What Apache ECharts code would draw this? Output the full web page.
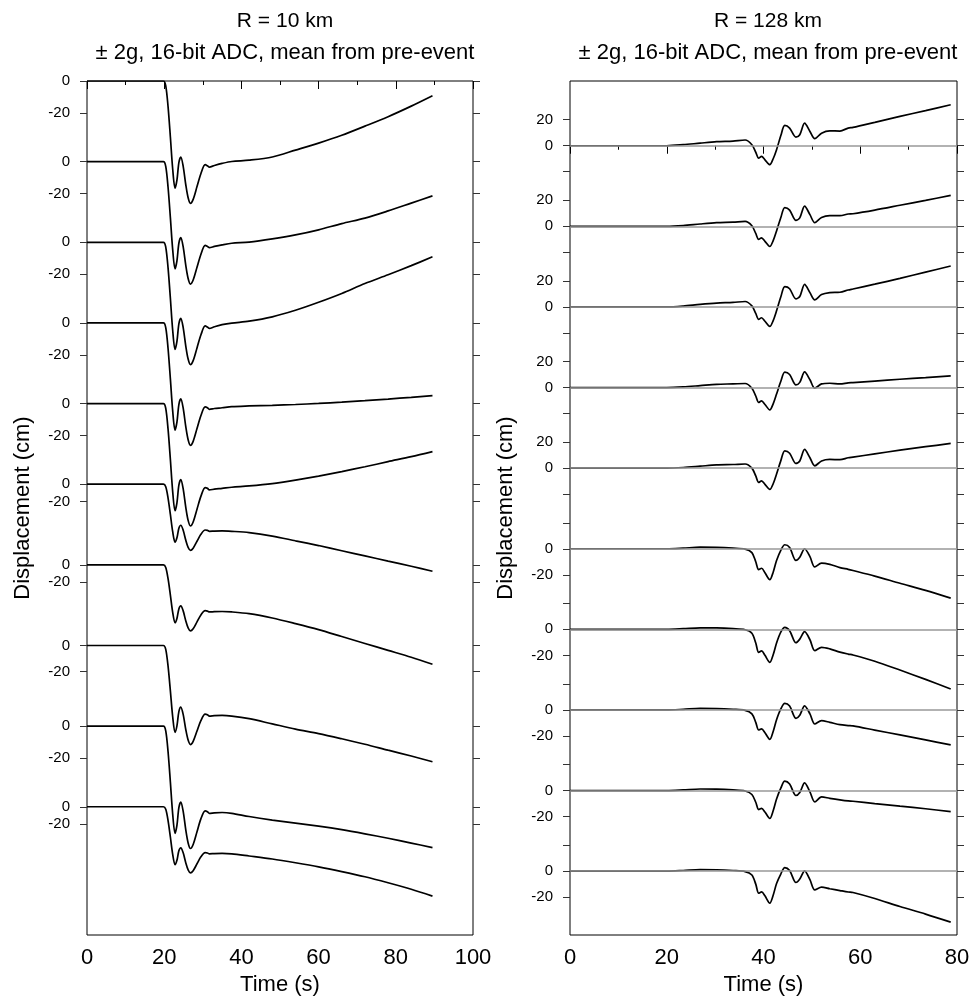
<!DOCTYPE html>
<html><head><meta charset="utf-8">
<script src="https://cdn.jsdelivr.net/npm/echarts@6/dist/echarts.min.js"></script>
<style>html,body{margin:0;padding:0;background:#fff}#c{width:971px;height:997px}</style>
</head><body><div id="c"></div>
<script>
// ---------- DATA ----------
// Left panel (R = 10 km): time samples (s) shared by all traces
const tLeft = [0, 10, 19.8, 20.4, 21.0, 21.6, 22.2, 22.8, 23.3, 23.8, 24.3, 24.9, 25.6, 26.2, 26.8, 27.5, 28.5, 29.5, 30.6, 31.2, 31.7, 33.0, 35.0, 37.5, 42, 48, 54, 60, 66, 72, 78, 84, 89.5];
// displacement (cm), top to bottom
const L1  = [0,0,0,-3,-16,-35,-55,-67,-62,-51,-47.5,-53,-65,-73,-76.5,-74,-66,-58,-52.3,-53,-53.8,-52.8,-51.5,-50.3, -49.5,-47.5,-43.2,-38.8,-33.9,-28.2,-22.3,-15.7,-9.2];
const L2  = [0,0,0,-3,-16,-35,-55,-67,-62,-51,-47.5,-53,-65,-73,-76.5,-74,-66,-58,-52.3,-53,-53.8,-53,-52,-51, -50.3,-48.3,-45.8,-42.6,-38.7,-35.3,-30.8,-25.9,-21.4];
const L3  = [0,0,0,-3,-16,-35,-55,-67,-62,-51,-47.5,-53,-65,-73,-76.5,-74,-66,-58,-52.3,-53,-53.8,-52.8,-51.5,-50.5, -49.3,-46.6,-42.5,-37.5,-32,-25.8,-20.3,-14.6,-9.1];
const L4  = [0,0,0,-3,-16,-35,-55,-67,-62,-51,-47.5,-53,-65,-73,-76.5,-74,-66,-58,-52.5,-53,-54,-53.5,-53,-52.3, -51.9,-51.5,-51,-50.3,-49.5,-48.6,-47.6,-46.5,-45.4];
const L5  = [0,0,0,-3,-16,-35,-55,-67,-62,-51,-47.5,-53,-65,-73,-76.5,-74,-66,-58,-52.5,-53,-54,-53.5,-53,-52.3, -51.5,-50,-47.8,-45.3,-42.5,-39.5,-36.3,-33.2,-30];
const L6  = [0,0,0,-3,-16,-35,-55,-67,-62,-51,-47.5,-53,-65,-73,-76.5,-74,-66,-58,-53,-53.5,-54.5,-54.2,-54,-54.5, -56,-60,-65.5,-71,-77,-83,-89,-95,-100.8];
const L7  = [0,0,0,-3,-16,-35,-55,-67,-62,-51,-47.5,-53,-65,-73,-76.5,-74,-66,-58,-53,-53.5,-54.5,-54.2,-54,-54.5, -56.5,-61.5,-68,-75,-83,-91,-99,-107,-115];
const L8  = [0,0,0,-3,-16,-35,-55,-67,-62,-51,-47.5,-53,-65,-73,-76.5,-74,-66,-58,-53,-53.5,-54.5,-54.2,-54,-54.5, -56.5,-60.5,-64.5,-68,-72,-76.2,-80.8,-85.3,-89.7];
const L9  = [0,0,0,-3,-16,-35,-55,-67,-62,-51,-47.5,-53,-65,-73,-76.5,-74,-66,-58,-53,-53.5,-54.5,-54.2,-54,-54.5, -56.5,-58.7,-60.6,-62.5,-64.7,-67.3,-70.1,-73.1,-75.9];
const L10 = [0,0,0,-3,-16,-35,-55,-67,-62,-51,-47.5,-53,-65,-73,-76.5,-74,-66,-58,-53,-53.5,-54.5,-54.2,-54,-54.5, -57,-60.5,-64.8,-69.5,-75,-81,-88,-95.5,-103.4];
const leftTraces = [L1, L2, L3, L4, L5, L6, L7, L8, L9, L10];
// relative plotting gain of each left trace
const leftGain = [1, 1, 1, 1, 1, 0.54, 0.54, 0.81, 1, 0.54];

// Right panel (R = 128 km)
const tRight = [0, 10, 20, 23.4, 26.9, 30.3, 33.7, 36.2, 37.6, 38.4, 39.0, 39.6, 40.3, 41.3, 42.0, 42.7, 43.6, 44.4, 45.4, 46.7, 47.5, 48.5, 49.6, 50.6, 52.0, 53.7, 55.8, 57.5, 58.5, 63, 68.2, 73.5, 78.7];
const R1  = [0,0,0,0.8,2,3.1,3.6,4.4, 0.8,-5,-9.5,-8.2,-10.8,-14.6,-10,-3, 8,15.6,13.6,6.7,8.5,17.4,11,5.4, 9.7,11.5,11.3,13.6,14.1, 18,22.6,27,31.5];
const R2  = [0,0,0,0.6,1.8,2.8,3.2,3.8, 0.5,-5.5,-10,-8.8,-11.5,-15.5,-11,-3.5, 7,14.4,12.5,4.6,6.5,15.6,9,2.8, 6.8,8.2,8.2,9.5,9.7, 12.5,16.2,20,23.8];
const R3  = [0,0,0,0.7,2,3,3.5,4.2, 0.8,-5,-9.5,-8.3,-11,-15,-10.5,-3, 8,15.6,14,6.2,8,17.4,11,5.4, 9.5,11,11.3,13,13.8, 17.5,22,26.8,31.5];
const R4  = [0,0,0,0.5,1.5,2.5,2.8,3.1, -0.5,-6.5,-11.5,-10.3,-13,-17.2,-12.5,-5, 5,11.8,10,2,4,12,6,-0.5, 2.8,3.3,2.8,3.6,3.8, 5,6.4,7.7,9.0];
const R5  = [0,0,0,0.5,1.5,2.5,2.8,3.2, 0,-6,-11,-9.8,-12.5,-16.4,-12,-4.5, 6,13.3,11.5,3.6,5.5,14.4,8,1.8, 5.5,6.7,6.5,8,8.5, 11,13.8,16.5,19];
const R6  = [0,0,0,0.5,1.2,1.1,0.5,-0.3, -3,-10,-16,-15,-18.5,-23.8,-18,-9, -1,3.1,1,-9,-6.5,0,-6,-14, -11,-12,-14.5,-15.8,-16.7, -21,-26.5,-32,-38];
const R7  = [0,0,0,0.5,1.2,1.1,0.5,-0.3, -3,-10.5,-17.7,-16.5,-20,-25.4,-19.5,-10.5, -2,1.5,-1,-10.3,-7.5,-1.8,-8,-16.4, -13.8,-15,-17.5,-19,-19.7, -24.5,-31.3,-38.5,-45.9];
const R8  = [0,0,0,0.5,1.2,1.1,0.5,-0.3, -3,-9.5,-15.4,-14.5,-17.5,-22.6,-16.5,-7.5, 1,5.1,3,-6.4,-4,3.1,-3,-10.8, -8.2,-9.5,-11.3,-12,-12.3, -15.5,-19.2,-23,-26.9];
const R9  = [0,0,0,0.5,1.2,1.1,0.5,-0.3, -3,-9,-14.6,-13.7,-16.5,-21.5,-15.5,-6.5, 2,7.2,5,-3.8,-1.5,5.9,-1,-8.7, -4.9,-6,-7.2,-8,-8.2, -10,-12,-14,-16.2];
const R10 = [0,0,0,0.5,1.2,1.1,0.5,-0.3, -3,-10,-16.9,-16,-19,-24.6,-18.5,-9.5, -2,2.8,0.5,-8.7,-6,0.3,-6.5,-14.4, -12.3,-13.5,-14.9,-16,-16.4, -21,-27.2,-33,-39.2];
const rightTraces = [R1, R2, R3, R4, R5, R6, R7, R8, R9, R10];

// x tick settings
const leftXTicks = {min: 0, max: 100, interval: 20};
const rightXTicks = {min: 0, max: 80, interval: 20};

// ---------- LAYOUT ----------
const FONT = 'Liberation Sans, Arial, Helvetica, sans-serif';
const GRID_TOP = 81, GRID_H = 854;
const LEFT_SPACING = 50.4;               // trace separation, display cm
const LEFT_MAX = 0, LEFT_MIN = -533.75;
const RIGHT_SPACING = 62.0;
const RIGHT_MAX = 49.8, RIGHT_MIN = 49.8 - 656.9;

const leftOff = leftTraces.map((_, k) => -LEFT_SPACING * k);
const rightOff = rightTraces.map((_, k) => -RIGHT_SPACING * k);

// tick / label positions
const leftTickVals = [], leftTickText = [];
leftOff.forEach((o, k) => {
  leftTickVals.push(o); leftTickText.push('0');
  leftTickVals.push(o - 20 * leftGain[k]); leftTickText.push('-20');
});
const rightTickVals = [], rightLabelVals = [], rightLabelText = [];
rightOff.forEach((o, k) => {
  rightTickVals.push(o + 20, o, o - 20);
  if (k < 5) { rightLabelVals.push(o + 20, o); rightLabelText.push('20', '0'); }
  else { rightLabelVals.push(o, o - 20); rightLabelText.push('0', '-20'); }
});
function nearestText(vals, texts) {
  return function (v) {
    let bi = 0, bd = Infinity;
    vals.forEach((x, i) => { const d = Math.abs(x - v); if (d < bd) { bd = d; bi = i; } });
    return texts[bi];
  };
}

function yAxisCfg(grid, min, max, pos, tickVals, labelVals, fmt, showName) {
  return {
    gridIndex: grid, type: 'value', min: min, max: max, position: pos,
    axisLine: {show: false}, splitLine: {show: false},
    axisTick: {show: true, customValues: tickVals, length: 7, lineStyle: {color: '#333', width: 1}},
    axisLabel: labelVals ? {show: true, customValues: labelVals, formatter: fmt, margin: 17,
      fontSize: 15, color: '#000', fontFamily: FONT} : {show: false},
    name: showName ? 'Displacement (cm)' : '', nameLocation: 'middle', nameGap: 53,
    nameTextStyle: {fontSize: 22, color: '#000', fontFamily: FONT}
  };
}
function xAxisCfg(grid, ticks) {
  return {
    gridIndex: grid, type: 'value', min: ticks.min, max: ticks.max, interval: ticks.interval,
    axisLine: {show: false}, splitLine: {show: false},
    axisTick: {show: true, length: 8, lineStyle: {color: '#000'}},
    minorTick: {show: true, splitNumber: 2, length: 4, lineStyle: {color: '#000'}},
    minorSplitLine: {show: false},
    axisLabel: {fontSize: 22, margin: 12, color: '#000', fontFamily: FONT},
    name: 'Time (s)', nameLocation: 'middle', nameGap: 37,
    nameTextStyle: {fontSize: 22, color: '#000', fontFamily: FONT}
  };
}

const series = [];
leftTraces.forEach((v, k) => {
  series.push({
    type: 'line', xAxisIndex: 0, yAxisIndex: 0, showSymbol: false, smooth: 0.3, z: 3,
    lineStyle: {color: '#000', width: 1.7}, silent: true,
    data: tLeft.map((t, i) => [t, leftOff[k] + leftGain[k] * v[i]])
  });
});
series.push({
  type: 'line', xAxisIndex: 1, yAxisIndex: 2, data: [], z: 1, silent: true,
  markLine: {silent: true, symbol: ['none', 'none'], label: {show: false},
    lineStyle: {color: '#999', width: 1.5, type: 'solid'},
    data: rightOff.map(o => ({yAxis: o}))}
});
rightTraces.forEach((v, k) => {
  series.push({
    type: 'line', xAxisIndex: 1, yAxisIndex: 2, showSymbol: false, smooth: 0.3, z: 3,
    lineStyle: {color: '#000', width: 1.7}, silent: true,
    data: tRight.map((t, i) => [t, rightOff[k] + v[i]])
  });
});

const chart = echarts.init(document.getElementById('c'), null, {renderer: 'canvas'});
chart.setOption({
  animation: false,
  backgroundColor: '#fff',
  textStyle: {fontFamily: FONT},
  title: [
    {text: 'R = 10 km', left: 280, top: 6, textAlign: 'center', textStyle: {fontSize: 21, fontWeight: 'normal', color: '#000', fontFamily: FONT}},
    {text: '± 2g, 16-bit ADC, mean from pre-event', left: 280, top: 37, textAlign: 'center', textStyle: {fontSize: 22, fontWeight: 'normal', color: '#000', fontFamily: FONT}},
    {text: 'R = 128 km', left: 763, top: 6, textAlign: 'center', textStyle: {fontSize: 21, fontWeight: 'normal', color: '#000', fontFamily: FONT}},
    {text: '± 2g, 16-bit ADC, mean from pre-event', left: 763, top: 37, textAlign: 'center', textStyle: {fontSize: 22, fontWeight: 'normal', color: '#000', fontFamily: FONT}}
  ],
  grid: [
    {left: 87, top: GRID_TOP, width: 386, height: GRID_H, show: true, borderColor: '#000', borderWidth: 1, backgroundColor: 'transparent', outerBoundsMode: 'none', containLabel: false},
    {left: 570, top: GRID_TOP, width: 387, height: GRID_H, show: true, borderColor: '#000', borderWidth: 1, backgroundColor: 'transparent', outerBoundsMode: 'none', containLabel: false}
  ],
  xAxis: [xAxisCfg(0, leftXTicks), xAxisCfg(1, rightXTicks)],
  yAxis: [
    yAxisCfg(0, LEFT_MIN, LEFT_MAX, 'left', leftTickVals, leftTickVals, nearestText(leftTickVals, leftTickText), true),
    yAxisCfg(0, LEFT_MIN, LEFT_MAX, 'right', leftTickVals, null, null, false),
    yAxisCfg(1, RIGHT_MIN, RIGHT_MAX, 'left', rightTickVals, rightLabelVals, nearestText(rightLabelVals, rightLabelText), true),
    yAxisCfg(1, RIGHT_MIN, RIGHT_MAX, 'right', rightTickVals, null, null, false)
  ],
  series: series
});
</script></body></html>
